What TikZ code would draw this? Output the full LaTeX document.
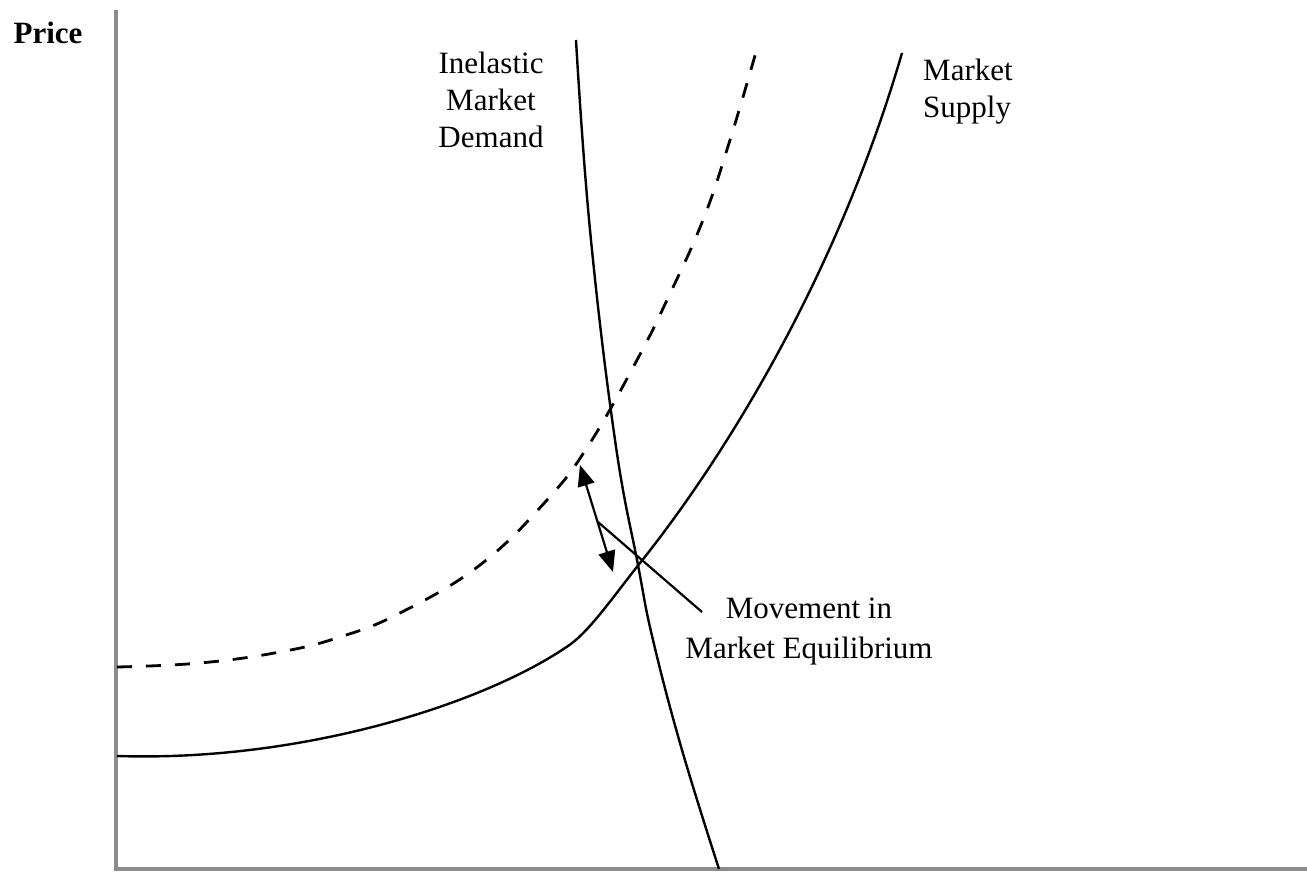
\documentclass[tikz,border=0pt]{standalone}
\usepackage{fontspec}
\setmainfont{Liberation Serif}
\usetikzlibrary{arrows.meta}
\definecolor{axisgray}{RGB}{140,140,140}
\tikzset{
  axisline/.style={draw=axisgray, line width=3.5pt},
  curve/.style={draw=black, line width=2.4pt},
  shifted/.style={draw=black, line width=2.8pt, dash pattern=on 15pt off 14pt},
  movearrow/.style={draw=black, line width=2.2pt, {Triangle[length=21pt,width=17pt]}-{Triangle[length=21pt,width=17pt]}},
  leader/.style={draw=black, line width=2.2pt},
  lbl/.style={font=\fontsize{31}{37}\selectfont, align=center, inner sep=0pt},
}
\begin{document}
\begin{tikzpicture}[x=1pt,y=-1pt]
\useasboundingbox (0,0) rectangle (1307,875);
% axes
\coordinate (origin) at (116,869);
\coordinate (ytop) at (116,10);
\coordinate (xend) at (1307,869);
\draw[axisline] (ytop) -- (origin) -- (xend);
\node[lbl, font=\fontsize{31}{37}\selectfont\bfseries, anchor=base] (price) at (48,44) {Price};
% shifted supply (dashed)
\draw[shifted] plot[smooth, tension=0.7] coordinates {(117,667) (200,663) (280,652) (340,637) (400,613) (480,565) (547,500) (590,443) (637,360) (667,300) (703,220) (730,140) (756,52)};
% market supply
\coordinate (s0) at (117,756);
\coordinate (s1) at (565,648);
\coordinate (s2) at (640,563);
\coordinate (s3) at (902,53);
\draw[curve] (s0) .. controls (300,762) and (480,705) .. (s1)
  .. controls (588,634) and (612,598) .. (s2)
  .. controls (705,482) and (830,300) .. (s3);
% inelastic demand
\draw[curve] plot[smooth, tension=0.7] coordinates {(576,40) (590,230) (615,440) (638,565) (653,640) (682,750) (719,869)};
% movement arrow and leader
\coordinate (arrtop) at (580,465);
\coordinate (arrbot) at (613,572);
\draw[movearrow] (arrtop) -- (arrbot);
\coordinate (leadstart) at (598,522);
\coordinate (leadend) at (702,612);
\draw[leader] (leadstart) -- (leadend);
% labels
\node[lbl] (demandlbl) at (491,100) {Inelastic\\Market\\Demand};
\node[lbl, anchor=west, align=left] (supplylbl) at (923,92) {Market\\Supply};
\node[lbl, font=\fontsize{31}{40}\selectfont] (movelbl) at (809,632) {Movement in\\Market Equilibrium};
\end{tikzpicture}
\end{document}
